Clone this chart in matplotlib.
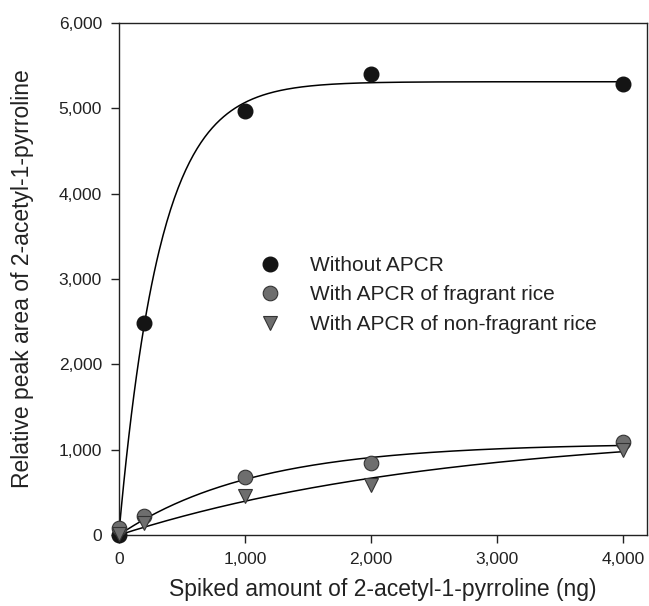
import numpy as np
import matplotlib
matplotlib.use("Agg")
import matplotlib.pyplot as plt
from matplotlib.ticker import FuncFormatter

plt.rcParams['font.family'] = ['Liberation Sans', 'DejaVu Sans']

# spiked amount (ng) and relative peak areas
spiked = [0, 200, 1000, 2000, 4000]
without_apcr = [0, 2480, 4970, 5400, 5290]
fragrant = [80, 225, 680, 840, 1085]
non_fragrant = [10, 145, 460, 590, 1000]

labels = ["Without APCR", "With APCR of fragrant rice", "With APCR of non-fragrant rice"]


def fit_rise(x, y):
    # y = a*(1-exp(-b*x)), grid search on b, least squares on a
    x = np.asarray(x, float)
    y = np.asarray(y, float)
    best = None
    for b in np.logspace(-5.5, -1.5, 4000):
        g = 1 - np.exp(-b * x)
        a = (g @ y) / (g @ g)
        err = np.sum((y - a * g) ** 2)
        if best is None or err < best[0]:
            best = (err, a, b)
    return best[1], best[2]


fig = plt.figure(figsize=(6.49, 6.06), dpi=100)
ax = fig.add_axes([0.183, 0.117, 0.814, 0.845])

xs = np.linspace(0, 4000, 400)
for ys in (without_apcr, fragrant, non_fragrant):
    a, b = fit_rise(spiked, ys)
    ax.plot(xs, a * (1 - np.exp(-b * xs)), color='black', lw=1.1, zorder=2)

ax.plot(spiked, without_apcr, 'o', ms=10.5, color='#141414', mec='#141414',
        label=labels[0], clip_on=False, zorder=3)
ax.plot(spiked, fragrant, 'o', ms=10.5, color='#6e6e6e', mec='#333333', mew=0.8,
        label=labels[1], clip_on=False, zorder=4)
ax.plot(spiked, non_fragrant, 'v', ms=10, color='#6e6e6e', mec='#333333', mew=0.8,
        label=labels[2], clip_on=False, zorder=5)

ax.set_xlim(0, 4190)
ax.set_ylim(0, 6000)
ax.set_xticks([0, 1000, 2000, 3000, 4000])
ax.set_yticks([0, 1000, 2000, 3000, 4000, 5000, 6000])
fmt = FuncFormatter(lambda v, p: f"{int(v):,}")
ax.xaxis.set_major_formatter(fmt)
ax.yaxis.set_major_formatter(fmt)
ax.tick_params(direction='out', length=6, width=1, labelsize=12.5, colors='#222222', pad=6)
for s in ax.spines.values():
    s.set_linewidth(1)
    s.set_color('#222222')

ax.set_xlabel("Spiked amount of 2-acetyl-1-pyrroline (ng)", fontsize=16.5, labelpad=8, color='#222222')
ax.set_ylabel("Relative peak area of 2-acetyl-1-pyrroline", fontsize=16.5, labelpad=18, color='#222222')

leg = ax.legend(loc='upper left', bbox_to_anchor=(0.267, 0.545), frameon=False,
                fontsize=15, handletextpad=1.4, labelspacing=0.5, borderaxespad=0,
                handlelength=1.0, borderpad=0)
for t in leg.get_texts():
    t.set_color('#222222')

fig.savefig("out.png", dpi=100)
